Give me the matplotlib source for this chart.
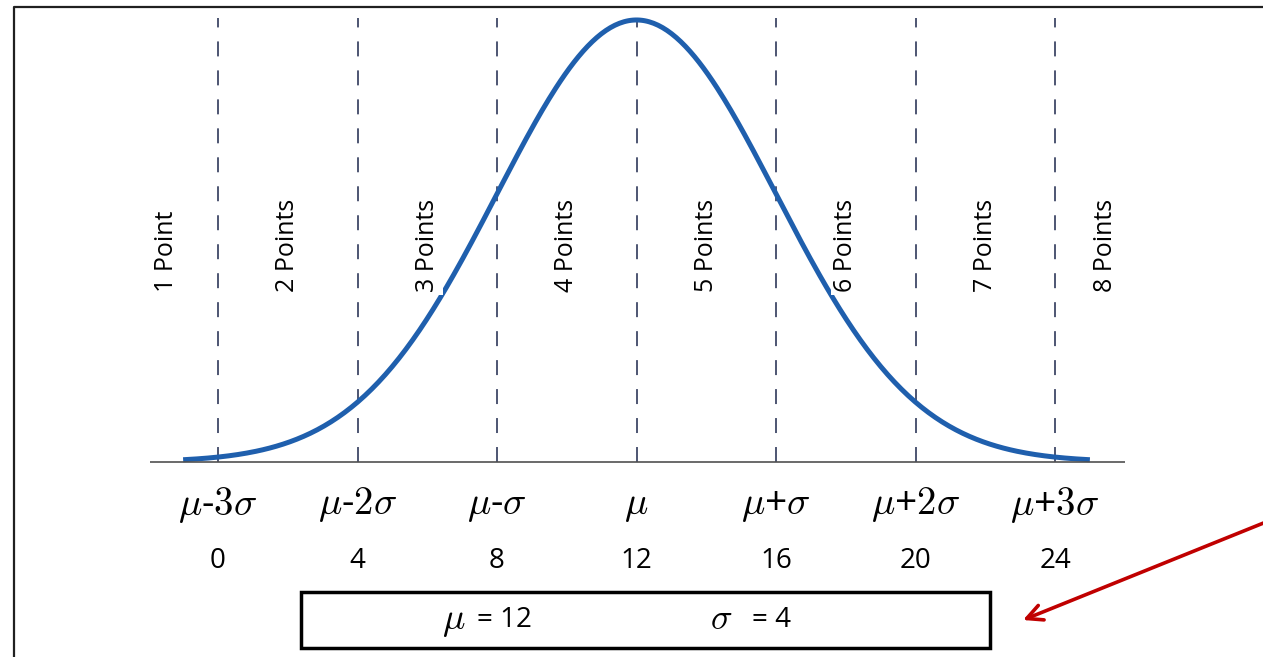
import numpy as np
import matplotlib
matplotlib.use("Agg")
import matplotlib.pyplot as plt
from matplotlib.patches import Rectangle
from matplotlib.lines import Line2D

plt.rcParams["font.family"] = ["Open Sans", "DejaVu Sans"]
plt.rcParams["mathtext.fontset"] = "cm"

# data
mu = 12
sigma = 4
sigma_steps = [-3, -2, -1, 0, 1, 2, 3]
sigma_labels = [r"$\mu$-$3\sigma$", r"$\mu$-$2\sigma$", r"$\mu$-$\sigma$", r"$\mu$",
                r"$\mu$+$\sigma$", r"$\mu$+$2\sigma$", r"$\mu$+$3\sigma$"]
point_labels = ["1 Point", "2 Points", "3 Points", "4 Points",
                "5 Points", "6 Points", "7 Points", "8 Points"]

boundaries = [mu + k * sigma for k in sigma_steps]

# normal curve of the stated mu / sigma, scaled so the peak is 1
x = np.linspace(mu - 3.25 * sigma, mu + 3.25 * sigma, 400)
y = np.exp(-0.5 * ((x - mu) / sigma) ** 2)

fig = plt.figure(figsize=(12.63, 6.57), dpi=100)
ax = fig.add_axes([0, 0, 1, 1])
ax.set_xlim(-6.251, 29.964)
ax.set_ylim(-0.4412, 1.0452)
ax.axis("off")

# dashed sigma lines
ax.vlines(boundaries, 0, 1.005, colors="#4d5572", linewidth=1.4,
          linestyles=(0, (7.7, 7.2)), zorder=1)

# bell curve
ax.plot(x, y, color="#1f5fad", linewidth=3.6, solid_capstyle="butt", zorder=2)

# baseline
ax.hlines(0, mu - 3 * sigma - 1.95, mu + 3 * sigma + 2.0, colors="#505050",
          linewidth=1.2, zorder=3)

# point labels sit between the sigma lines
step = boundaries[1] - boundaries[0]
label_x = ([boundaries[0] - step * 0.37]
           + [(a + b) / 2 for a, b in zip(boundaries[:-1], boundaries[1:])]
           + [boundaries[-1] + step * 0.36])
for lx, txt in zip(label_x, point_labels):
    ax.text(lx, 0.385, txt, rotation=90, ha="center", va="bottom", fontsize=18,
            color="black", zorder=4,
            bbox=dict(facecolor="white", edgecolor="none", pad=2))

# sigma labels and values
for b, lab in zip(boundaries, sigma_labels):
    ax.text(b, -0.097, lab, ha="center", va="center", fontsize=28)
    ax.text(b, -0.224, str(b), ha="center", va="center", fontsize=20)

# parameter box
ax.add_patch(Rectangle((0.2383, 0.0137), 0.5455, 0.0852, transform=ax.transAxes,
                       facecolor="none", edgecolor="black", linewidth=2.5))
ax.text(0.3595, 0.0563, r"$\mu$", transform=ax.transAxes,
        ha="center", va="center", fontsize=27)
ax.text(0.3777, 0.0563, "= %d" % mu, transform=ax.transAxes,
        ha="left", va="center", fontsize=20)
ax.text(0.571, 0.0563, r"$\sigma$", transform=ax.transAxes,
        ha="center", va="center", fontsize=26)
ax.text(0.5954, 0.0563, "= %d" % sigma, transform=ax.transAxes,
        ha="left", va="center", fontsize=20)

# red arrow pointing at the box
ax.annotate("", xy=(1023, 37), xycoords="figure pixels",
            xytext=(1266, 135), textcoords="figure pixels",
            arrowprops=dict(arrowstyle="->", color="#c00000", lw=2.6,
                            mutation_scale=28, shrinkA=0, shrinkB=0))

# frame lines (top and left)
fig.add_artist(Line2D([0.0111, 0.0111, 1.0], [0.0, 0.9893, 0.9893],
                      transform=fig.transFigure, color="#202020", linewidth=1.6))

fig.savefig("out.png", dpi=100)
